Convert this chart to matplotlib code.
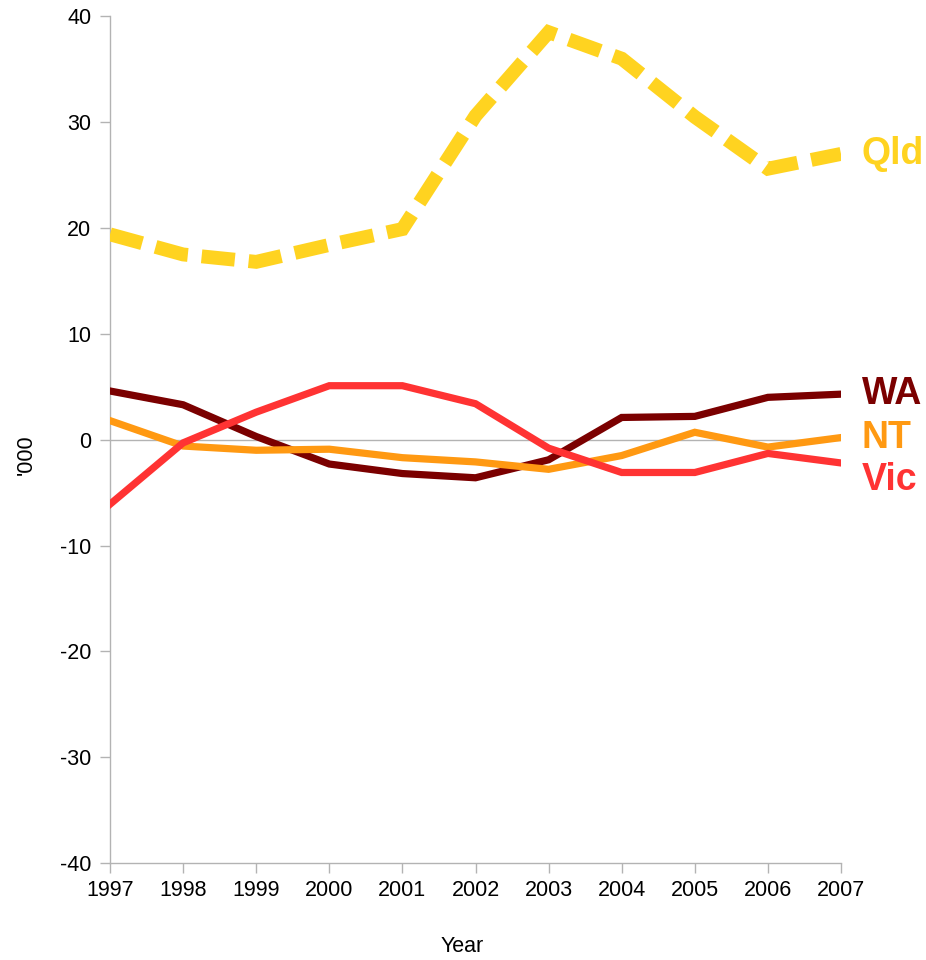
import matplotlib
matplotlib.use("Agg")
import matplotlib.pyplot as plt

plt.rcParams['font.family'] = ['Liberation Sans', 'DejaVu Sans']

years = [1997, 1998, 1999, 2000, 2001, 2002, 2003, 2004, 2005, 2006, 2007]
qld = [19.4, 17.5, 16.8, 18.4, 19.9, 30.6, 38.5, 36.0, 30.5, 25.6, 27.0]
wa = [4.6, 3.3, 0.3, -2.3, -3.2, -3.6, -1.9, 2.1, 2.2, 4.0, 4.3]
nt = [1.8, -0.6, -1.0, -0.9, -1.7, -2.1, -2.8, -1.5, 0.7, -0.7, 0.2]
vic = [-6.1, -0.3, 2.6, 5.1, 5.1, 3.4, -0.8, -3.1, -3.1, -1.3, -2.2]

series_names = ['Qld', 'WA', 'NT', 'Vic']
yticks = [-40, -30, -20, -10, 0, 10, 20, 30, 40]

fig = plt.figure(figsize=(9.26, 9.6), dpi=100)
ax = fig.add_axes([0.1188, 0.101, 0.7894, 0.882])

grey = '#b3b3b3'
ax.axhline(0, color=grey, lw=1.0, zorder=1)

c_qld = '#ffd320'
c_wa = '#7b0000'
c_nt = '#ff9912'
c_vic = '#ff3333'

ax.plot(years, wa, color=c_wa, lw=5.2, solid_joinstyle='miter', zorder=3)
ax.plot(years, nt, color=c_nt, lw=5.2, solid_joinstyle='miter', zorder=3)
ax.plot(years, vic, color=c_vic, lw=5.2, solid_joinstyle='miter', zorder=3)
ln, = ax.plot(years, qld, color=c_qld, lw=10, zorder=3,
              dash_capstyle='butt', dash_joinstyle='miter')
ln.set_dashes([2.4, 1.0])

ax.set_xlim(1997, 2007)
ax.set_ylim(-40, 40)
ax.set_xticks(years)
ax.set_xticklabels([str(y) for y in years])
ax.set_yticks(yticks)
ax.set_yticklabels([str(t) for t in yticks])

for s in ['top', 'right']:
    ax.spines[s].set_visible(False)
for s in ['left', 'bottom']:
    ax.spines[s].set_color(grey)
    ax.spines[s].set_linewidth(1.0)
ax.tick_params(axis='both', colors=grey, length=7.5, width=1.0,
               labelsize=15.5, labelcolor='black')
ax.tick_params(axis='x', pad=5)
ax.tick_params(axis='y', pad=6)

ax.set_xlabel('Year', fontsize=15.5)
ax.xaxis.set_label_coords(0.4815, -0.086)
ax.set_ylabel("'000", fontsize=15.5)
ax.yaxis.set_label_coords(-0.100, 0.482)

label_info = [('Qld', qld, c_qld, 0), ('WA', wa, c_wa, 0),
              ('NT', nt, c_nt, 0), ('Vic', vic, c_vic, -12)]
for name, vals, col, dy in label_info:
    ax.annotate(name, xy=(years[-1], vals[-1]), xytext=(15, dy),
                textcoords='offset points', ha='left', va='center',
                fontsize=27, fontweight='bold', color=col,
                annotation_clip=False)

fig.savefig('out.png', dpi=100, facecolor='white')
